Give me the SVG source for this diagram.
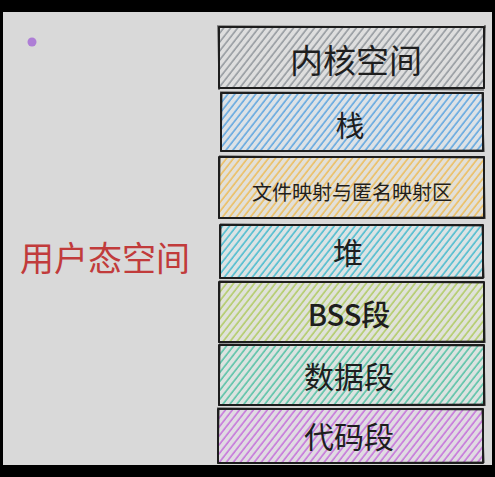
<svg xmlns="http://www.w3.org/2000/svg" width="495" height="477" viewBox="0 0 495 477">
<defs>
<style>
.box{stroke:#1e1e1e;stroke-width:2;stroke-linejoin:round}
.sk{fill:none;stroke:#1e1e1e;stroke-width:1.2;opacity:0.8}
.t{font-family:"Noto Sans CJK SC","Noto Sans",sans-serif;fill:#1e1e1e;text-anchor:middle;dominant-baseline:central}
</style>
<pattern id="hGray" width="5.5" height="10" patternUnits="userSpaceOnUse" patternTransform="rotate(38)"><line x1="1" y1="0" x2="1" y2="10" stroke="#7d848b" stroke-width="1.2"/></pattern>
<pattern id="hBlue" width="5.5" height="10" patternUnits="userSpaceOnUse" patternTransform="rotate(38)"><line x1="1" y1="0" x2="1" y2="10" stroke="#3b94dd" stroke-width="1.2"/></pattern>
<pattern id="hYellow" width="5.5" height="10" patternUnits="userSpaceOnUse" patternTransform="rotate(38)"><line x1="1" y1="0" x2="1" y2="10" stroke="#efb33a" stroke-width="1.2"/></pattern>
<pattern id="hCyan" width="5.5" height="10" patternUnits="userSpaceOnUse" patternTransform="rotate(38)"><line x1="1" y1="0" x2="1" y2="10" stroke="#1fb0c8" stroke-width="1.2"/></pattern>
<pattern id="hGreen" width="5.5" height="10" patternUnits="userSpaceOnUse" patternTransform="rotate(38)"><line x1="1" y1="0" x2="1" y2="10" stroke="#a3c444" stroke-width="1.2"/></pattern>
<pattern id="hTeal" width="5.5" height="10" patternUnits="userSpaceOnUse" patternTransform="rotate(38)"><line x1="1" y1="0" x2="1" y2="10" stroke="#2fb894" stroke-width="1.2"/></pattern>
<pattern id="hPurple" width="5.5" height="10" patternUnits="userSpaceOnUse" patternTransform="rotate(38)"><line x1="1" y1="0" x2="1" y2="10" stroke="#bd55d8" stroke-width="1.2"/></pattern>
</defs>
<rect x="0" y="0" width="495" height="477" fill="#000"/>
<rect x="3" y="12" width="489" height="453" fill="#d9d9d9"/>
<circle cx="32" cy="42" r="4.5" fill="#ae7ed6"/>
<g id="user-space"><text x="105" y="256" class="t" style="fill:#c13b3b;font-size:34px">用户态空间</text></g>
<g id="kernel"><rect x="219" y="27" width="265" height="61" fill="#dedede"/><rect x="219" y="27" width="265" height="61" class="box" fill="url(#hGray)"/><path d="M217 26 L486 27 M220 88 L484 90 M218 26 L219 90 M485 25 L484 89" class="sk"/><text x="356" y="59" class="t" style="font-size:33px">内核空间</text></g>
<g id="stack"><rect x="221" y="93" width="262" height="58" fill="#dde2e6"/><rect x="221" y="93" width="262" height="58" class="box" fill="url(#hBlue)"/><path d="M220 92 L484 93 M221 151 L483 150 M222 92 L221 152 M482 92 L484 152" class="sk"/><text x="350" y="124" class="t" style="font-size:29px">栈</text></g>
<g id="mmap"><rect x="219" y="157" width="265" height="61" fill="#e2e0d9"/><rect x="219" y="157" width="265" height="61" class="box" fill="url(#hYellow)"/><path d="M219 156 L485 158 M218 218 L484 217 M220 156 L219 219 M484 156 L485 219" class="sk"/><text x="352" y="191" class="t" style="font-size:20px">文件映射与匿名映射区</text></g>
<g id="heap"><rect x="220" y="225" width="263" height="53" fill="#dce3e4"/><rect x="220" y="225" width="263" height="53" class="box" fill="url(#hCyan)"/><path d="M220 224 L484 226 M220 278 L483 277 M221 224 L220 279 M482 225 L484 278" class="sk"/><text x="348" y="251" class="t" style="font-size:30px">堆</text></g>
<g id="bss"><rect x="219" y="282" width="265" height="60" fill="#e0e2da"/><rect x="219" y="282" width="265" height="60" class="box" fill="url(#hGreen)"/><path d="M219 281 L485 283 M218 342 L484 341 M220 281 L219 343 M484 282 L485 343" class="sk"/><text x="349" y="313" class="t" style="font-size:29px;font-weight:500">BSS段</text></g>
<g id="data"><rect x="219" y="345" width="265" height="60" fill="#dce3e0"/><rect x="219" y="345" width="265" height="60" class="box" fill="url(#hTeal)"/><path d="M219 344 L485 346 M218 405 L484 404 M220 344 L219 406 M484 345 L485 406" class="sk"/><text x="349" y="375" class="t" style="font-size:30px">数据段</text></g>
<g id="code"><rect x="218" y="409" width="265" height="54" fill="#e0dbe2"/><rect x="218" y="409" width="265" height="54" class="box" fill="url(#hPurple)"/><path d="M217 408 L484 410 M218 463 L483 462 M219 408 L218 464 M482 409 L484 463" class="sk"/><text x="349" y="435" class="t" style="font-size:30px">代码段</text></g>
<g id="connectors"></g>
</svg>
